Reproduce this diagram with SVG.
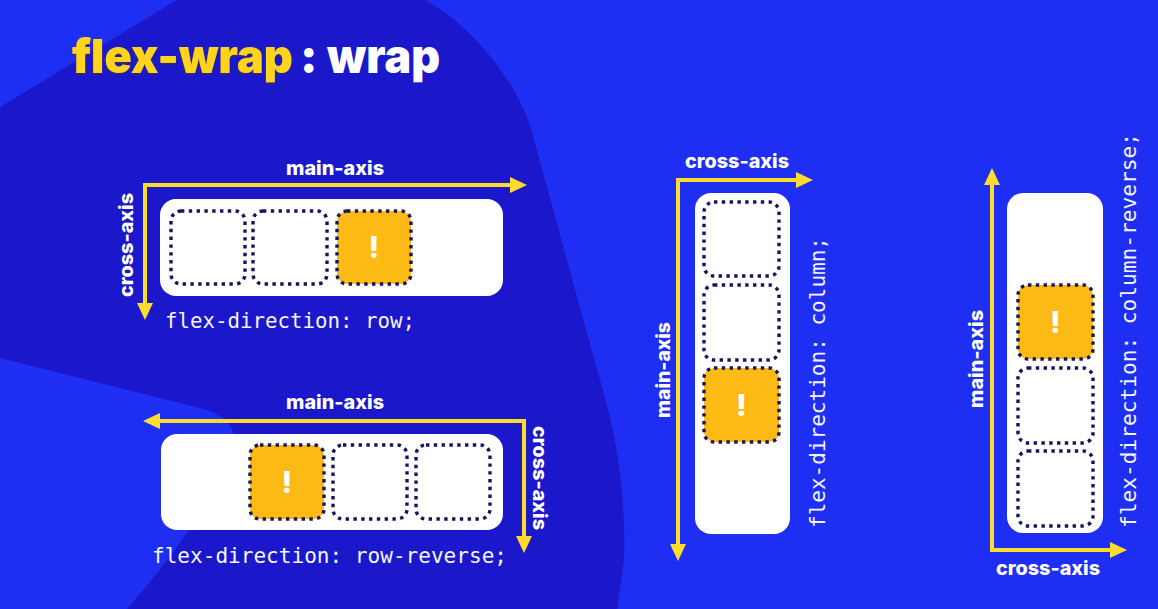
<svg xmlns="http://www.w3.org/2000/svg" width="1158" height="609" viewBox="0 0 1158 609">
  <defs>
    <style>
      .bg { fill: #1e2ef3; }
      .blob { fill: #1b18cb; }
      .panel { fill: #ffffff; }
      .slot { fill: none; stroke: #16145e; stroke-width: 3.4; stroke-dasharray: 3.4 4.4; }
      .slot.hit { fill: #fdb914; }
      .bang { font-family: Inter, "Liberation Sans", sans-serif; font-weight: 800; font-size: 30px; fill: #ffffff; text-anchor: middle; }
      .axis { fill: none; stroke: #fedc2c; stroke-width: 4; marker-start: url(#head); marker-end: url(#head); }
      .lbl { font-family: Inter, "Liberation Sans", sans-serif; font-weight: 800; font-size: 19px; fill: #ffffff; text-anchor: middle; }
      .code { font-family: "DejaVu Sans Mono", "Liberation Mono", monospace; font-size: 21px; fill: #f4f4f8; }
      .title { font-family: Inter, "Liberation Sans", sans-serif; font-weight: 900; font-size: 47px; }
    </style>
    <marker id="head" viewBox="0 0 17 16" refX="3" refY="8" markerWidth="17" markerHeight="16" markerUnits="userSpaceOnUse" orient="auto-start-reverse">
      <path d="M0,0 L17,8 L0,16 Z" fill="#fedc2c"/>
    </marker>
    <filter id="lift" x="-5%" y="-20%" width="110%" height="140%">
      <feDropShadow dx="-1" dy="1.5" stdDeviation="0.6" flood-color="#4a3010" flood-opacity="0.6"/>
    </filter>
  </defs>

  <!-- backdrop: bright blue field with a darker blob on the left -->
  <rect class="bg" x="0" y="0" width="1158" height="609"/>
  <path class="blob" d="M177,0 L425,0 C470,25 512,75 530,125 C548,190 575,290 600,380 C618,440 626,500 624,560 L617,609 L127,609 C170,560 222,490 233,445 C238,425 222,414 200,408 L0,358 L0,107 Z"/>

  <!-- heading -->
  <g id="title">
    <text class="title" x="72" y="73" fill="#ffd41f" filter="url(#lift)" textLength="221" lengthAdjust="spacingAndGlyphs">flex-wrap</text>
    <text class="title" x="300" y="73" fill="#ffffff">:</text>
    <text class="title" x="327" y="73" fill="#ffffff" textLength="113" lengthAdjust="spacingAndGlyphs">wrap</text>
  </g>

  <!-- axis arrows -->
  <g id="connectors">
    <path class="axis" d="M513,185 H145 V306"/>
    <path class="axis" d="M157,421 H524 V539"/>
    <path class="axis" d="M799,180 H678 V547"/>
    <path class="axis" d="M992,182 V550 H1113"/>
  </g>

  <!-- row -->
  <g id="row">
    <rect class="panel" x="160" y="199" width="343" height="97" rx="16"/>
    <rect class="slot" x="171" y="211" width="74" height="73" rx="10"/>
    <rect class="slot" x="253" y="211" width="74" height="73" rx="10"/>
    <rect class="slot hit" x="337" y="211" width="74" height="73" rx="10"/>
    <text class="bang" x="374" y="258">!</text>
    <text class="lbl" x="335" y="175" textLength="98" lengthAdjust="spacingAndGlyphs">main-axis</text>
    <text class="lbl" transform="translate(133,245) rotate(-90)" textLength="104" lengthAdjust="spacingAndGlyphs">cross-axis</text>
    <text class="code" x="165" y="328" textLength="250" lengthAdjust="spacingAndGlyphs">flex-direction: row;</text>
  </g>

  <!-- row-reverse -->
  <g id="row-reverse">
    <rect class="panel" x="161" y="434" width="342" height="96" rx="16"/>
    <rect class="slot hit" x="250" y="445" width="74" height="74" rx="10"/>
    <rect class="slot" x="333" y="445" width="74" height="74" rx="10"/>
    <rect class="slot" x="416" y="445" width="74" height="74" rx="10"/>
    <text class="bang" x="287" y="493">!</text>
    <text class="lbl" x="335" y="409" textLength="98" lengthAdjust="spacingAndGlyphs">main-axis</text>
    <text class="lbl" transform="translate(533,478) rotate(90)" textLength="104" lengthAdjust="spacingAndGlyphs">cross-axis</text>
    <text class="code" x="152" y="563" textLength="355" lengthAdjust="spacingAndGlyphs">flex-direction: row-reverse;</text>
  </g>

  <!-- column -->
  <g id="column">
    <rect class="panel" x="695" y="193" width="95" height="341" rx="16"/>
    <rect class="slot" x="704" y="202" width="75" height="74" rx="10"/>
    <rect class="slot" x="704" y="285" width="75" height="75" rx="10"/>
    <rect class="slot hit" x="704" y="368" width="75" height="74" rx="10"/>
    <text class="bang" x="741.5" y="416">!</text>
    <text class="lbl" x="737" y="168" textLength="104" lengthAdjust="spacingAndGlyphs">cross-axis</text>
    <text class="lbl" transform="translate(670,370) rotate(-90)" textLength="96" lengthAdjust="spacingAndGlyphs">main-axis</text>
    <text class="code" transform="translate(825,528) rotate(-90)" textLength="291" lengthAdjust="spacingAndGlyphs">flex-direction: column;</text>
  </g>

  <!-- column-reverse -->
  <g id="column-reverse">
    <rect class="panel" x="1007" y="193" width="96" height="340" rx="16"/>
    <rect class="slot hit" x="1018" y="285" width="75" height="74" rx="10"/>
    <rect class="slot" x="1018" y="368" width="75" height="75" rx="10"/>
    <rect class="slot" x="1018" y="451" width="75" height="75" rx="10"/>
    <text class="bang" x="1055.5" y="333">!</text>
    <text class="lbl" x="1048" y="575" textLength="104" lengthAdjust="spacingAndGlyphs">cross-axis</text>
    <text class="lbl" transform="translate(983,359) rotate(-90)" textLength="98" lengthAdjust="spacingAndGlyphs">main-axis</text>
    <text class="code" transform="translate(1136,528) rotate(-90)" textLength="395" lengthAdjust="spacingAndGlyphs">flex-direction: column-reverse;</text>
  </g>
</svg>
